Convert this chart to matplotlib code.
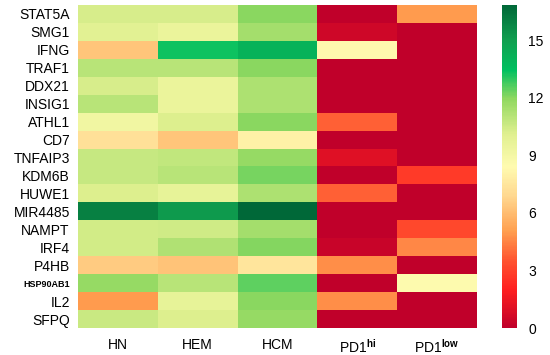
import numpy as np
from matplotlib import pyplot as plt
from matplotlib.colors import LinearSegmentedColormap

plt.rcParams['font.family'] = ['Liberation Sans', 'DejaVu Sans']
plt.rcParams['mathtext.fontset'] = 'custom'
plt.rcParams['mathtext.rm'] = 'Liberation Sans'
plt.rcParams['mathtext.bf'] = 'Liberation Sans:bold'

genes = ['STAT5A', 'SMG1', 'IFNG', 'TRAF1', 'DDX21', 'INSIG1', 'ATHL1', 'CD7',
         'TNFAIP3', 'KDM6B', 'HUWE1', 'MIR4485', 'NAMPT', 'IRF4', 'P4HB',
         'HSP90AB1', 'IL2', 'SFPQ']
groups = ['HN', 'HEM', 'HCM', r'PD1$^{\mathbf{hi}}$', r'PD1$^{\mathbf{low}}$']

HN = [10.3, 10.0, 6.3, 11.0, 10.3, 11.0, 9.2, 7.3, 10.7, 10.7, 10.2, 16.0, 10.4, 10.4, 6.5, 11.8, 5.0, 10.6]
HEM = [10.3, 9.5, 13.3, 11.0, 9.5, 9.5, 10.2, 6.3, 10.8, 11.0, 9.7, 15.2, 10.5, 11.2, 6.2, 11.0, 9.7, 10.2]
HCM = [12.0, 11.5, 14.1, 12.0, 11.3, 11.3, 12.0, 8.0, 11.8, 12.2, 11.3, 16.8, 11.5, 12.1, 7.5, 12.5, 12.0, 11.8]
PD1_hi = [0, 0.5, 8.3, 0, 0, 0, 3.8, 0, 1.0, 0, 3.8, 0, 0, 0.3, 4.7, 0, 4.7, 0]
PD1_low = [5.0, 0, 0, 0, 0, 0, 0, 0, 0, 2.8, 0, 0, 3.2, 4.6, 0, 8.5, 0, 0]

values = np.array([HN, HEM, HCM, PD1_hi, PD1_low]).T

cmap = LinearSegmentedColormap.from_list('rg', [
    (0.0, '#c0002a'), (0.12, '#ff2020'), (0.21, '#ff5530'), (0.30, '#ffa050'),
    (0.41, '#ffd890'), (0.50, '#fffbb0'), (0.60, '#e0f090'), (0.71, '#90d860'),
    (0.80, '#00c060'), (0.89, '#10a050'), (1.0, '#006838')])

fig = plt.figure(figsize=(5.5, 3.55), dpi=100)
ax = fig.add_axes([0.142, 0.076, 0.725, 0.910])
cax = fig.add_axes([0.913, 0.076, 0.027, 0.910])

mesh = ax.pcolormesh(values, cmap=cmap, vmin=0, vmax=16.85)
ax.set_xlim(0, 5)
ax.set_ylim(len(genes), 0)
ax.set_xticks(np.arange(5) + 0.5)
ax.set_xticklabels(groups, fontsize=10)
ax.set_yticks(np.arange(len(genes)) + 0.5)
ax.set_yticklabels(genes, fontsize=10)
for lab in ax.get_yticklabels():
    if lab.get_text() == 'HSP90AB1':
        lab.set_fontsize(6.5)
        lab.set_fontweight('bold')
ax.tick_params(length=0, pad=6)
ax.tick_params(axis='x', pad=7)
for s in ax.spines.values():
    s.set_visible(False)

cb = fig.colorbar(mesh, cax=cax, ticks=[0, 3, 6, 9, 12, 15])
cb.outline.set_visible(False)
cb.ax.tick_params(length=0, labelsize=10, pad=8)

fig.savefig('out.png', dpi=100)
